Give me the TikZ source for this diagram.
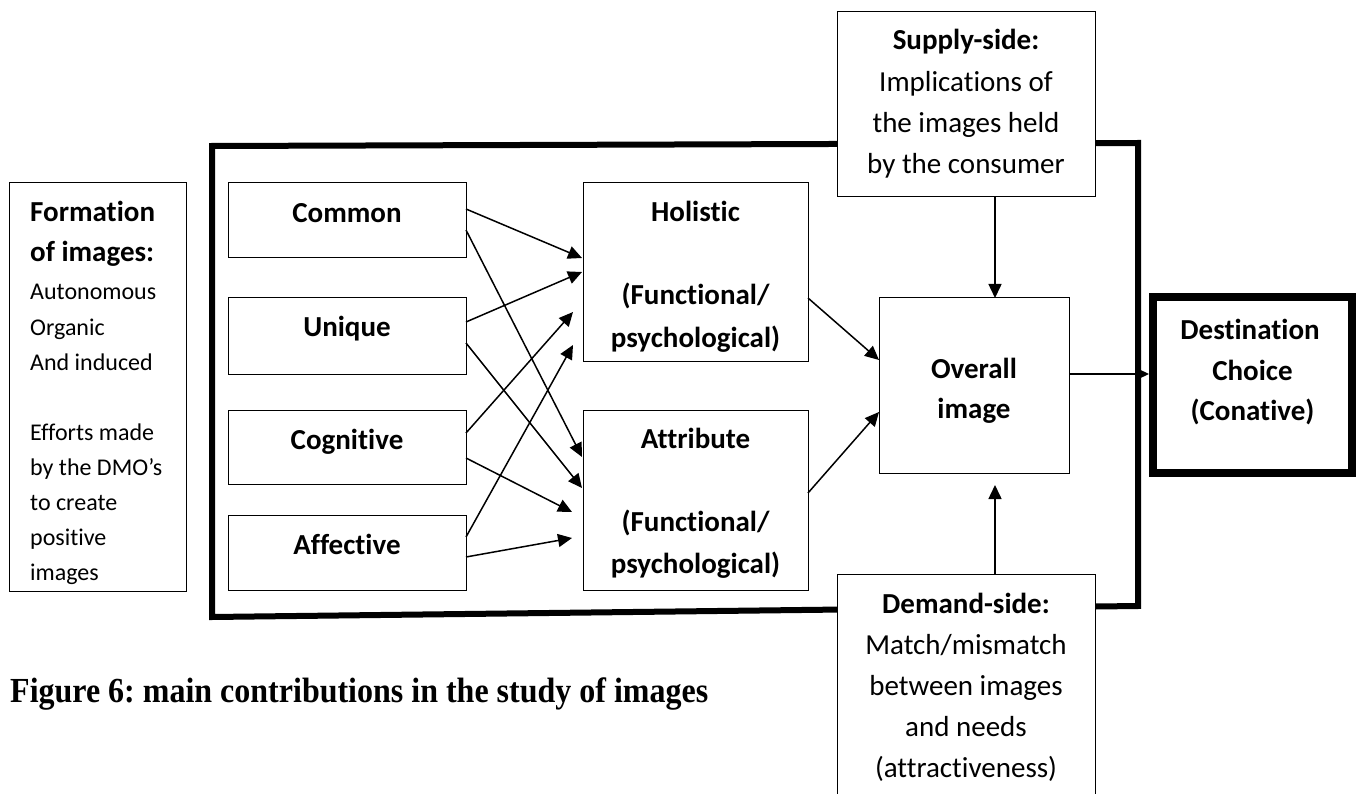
\documentclass[tikz,border=0pt]{standalone}
\usepackage{fontspec}
\usepackage{graphicx}
\setmainfont{Carlito}[Ligatures=NoCommon]
\newfontfamily\capfont{Liberation Serif}
\usetikzlibrary{arrows.meta,calc}
\frenchspacing
\begin{document}
\frenchspacing
\begin{tikzpicture}[x=1pt,y=-1pt,
  box/.style={draw,line width=1pt,inner sep=0pt,outer sep=0pt},
  bxs/.style 2 args={minimum width=#1pt,minimum height=#2pt},
  arr/.style={line width=1.5pt,-{Triangle[length=14pt,width=13pt]}},
  hb/.style={font=\fontsize{29}{35}\selectfont\bfseries,anchor=base,inner sep=0pt},
  hr/.style={font=\fontsize{29}{35}\selectfont,anchor=base,inner sep=0pt},
  fr/.style={font=\fontsize{24}{30}\selectfont,anchor=base west,inner sep=0pt},
  capstyle/.style={font=\capfont\bfseries\fontsize{32}{38}\selectfont,anchor=base west,inner sep=0pt}
]
\useasboundingbox (0,0) rectangle (1360,794);
\clip (0,0) rectangle (1360,794);
\fill[white] (0,0) rectangle (1360,794);

% thick frame
\draw[line width=6pt,line join=miter] (212,146) -- (1138,143) -- (1138,606) -- (212,617) -- cycle;

% boxes
\node[box,bxs={177}{408}] (form) at (97.5,387) {};
\node[box,bxs={238}{75}] (common) at (347,220.5) {};
\node[box,bxs={238}{76}] (unique) at (347,336) {};
\node[box,bxs={238}{74}] (cogn) at (347,447) {};
\node[box,bxs={238}{75}] (affect) at (347,552.5) {};
\node[box,bxs={225}{178}] (holistic) at (695.5,272) {};
\node[box,bxs={225}{180}] (attrib) at (695.5,500) {};
\node[box,bxs={190}{175}] (overall) at (974,385.5) {};
\node[box,fill=white,bxs={258}{185}] (supply) at (966,104.5) {};
\node[box,fill=white,bxs={258}{256}] (demand) at (966,702) {};
\node[draw,line width=7.5pt,inner sep=0pt,outer sep=0pt,bxs={199}{176}] (dest) at (1252.5,385) {};

% texts
\node[hb,anchor=base west] (tf1) at (30,222) {Formation};
\node[hb,anchor=base west] (tf2) at (30,262) {of images:};
\foreach \t/\y [count=\i] in {Autonomous/300, Organic/335, And induced/370, Efforts made/440, by the DMO’s/475, to create/510, positive/545, images/580}
  \node[fr] (fb\i) at (30,\y) {\t};

\node[hb] (tcommon) at (347,223) {Common};
\node[hb] (tunique) at (347,336.5) {Unique};
\node[hb] (tcogn) at (347,449) {Cognitive};
\node[hb] (taffect) at (347,554) {Affective};

\node[hb] (th1) at (695.5,222) {Holistic};
\node[hb] (th2) at (695.5,305) {(Functional/};
\node[hb] (th3) at (695.5,347) {psychological)};
\node[hb] (ta1) at (695.5,448) {Attribute};
\node[hb] (ta2) at (695.5,531) {(Functional/};
\node[hb] (ta3) at (695.5,573) {psychological)};

\node[hb] (to1) at (974,378) {Overall};
\node[hb] (to2) at (974,418) {image};

\node[hb] (td1) at (1250,340) {Destination};
\node[hb] (td2) at (1252.5,380) {Choice};
\node[hb] (td3) at (1252.5,420) {(Conative)};

\node[hb] (ts1) at (966,50) {Supply-side:};
\node[hr] (ts2) at (966,91.5) {Implications of};
\node[hr] (ts3) at (966,132.5) {the images held};
\node[hr] (ts4) at (966,173.5) {by the consumer};

\node[hb] (tm1) at (966,613) {Demand-side:};
\node[hr] (tm2) at (966,654) {Match/mismatch};
\node[hr] (tm3) at (966,695) {between images};
\node[hr] (tm4) at (966,736) {and needs};
\node[hr] (tm5) at (966,777) {(attractiveness)};

\node[capstyle] (cap) at (10,702) {\scalebox{1}[1.1]{Figure 6: main contributions in the study of images}};

% arrows
\draw[arr] ($(common.north east)+(0,26)$) -- ($(holistic.north west)+(-1,75)$);
\draw[arr] ($(common.north east)+(0,47)$) -- ($(attrib.north west)+(-1,47)$);
\draw[arr] ($(unique.north east)+(0,24)$) -- ($(holistic.north west)+(-1,89)$);
\draw[arr] ($(unique.north east)+(0,45)$) -- ($(attrib.north west)+(-1,78)$);
\draw[arr] ($(cogn.north east)+(0,23)$) -- ($(holistic.north west)+(-10,129)$);
\draw[arr] ($(cogn.north east)+(0,48)$) -- ($(attrib.north west)+(-11,102)$);
\draw[arr] ($(affect.north east)+(0,22)$) -- ($(holistic.north west)+(-10,162)$);
\draw[arr] ($(affect.north east)+(0,42)$) -- ($(attrib.north west)+(-11,128)$);
\draw[arr] ($(holistic.north east)+(0,115)$) -- ($(overall.north west)+(0,62)$);
\draw[arr] ($(attrib.north east)+(0,83)$) -- ($(overall.north west)+(0,114)$);
\draw[arr] ($(supply.south)+(29,0)$) -- ($(overall.north)+(21,0)$);
\draw[arr] ($(demand.north)+(29,0)$) -- ($(overall.south)+(21,12)$);
\draw[arr] ($(overall.north east)+(0,76)$) -- ($(dest.north west)+(-4,77)$);
\end{tikzpicture}
\end{document}
